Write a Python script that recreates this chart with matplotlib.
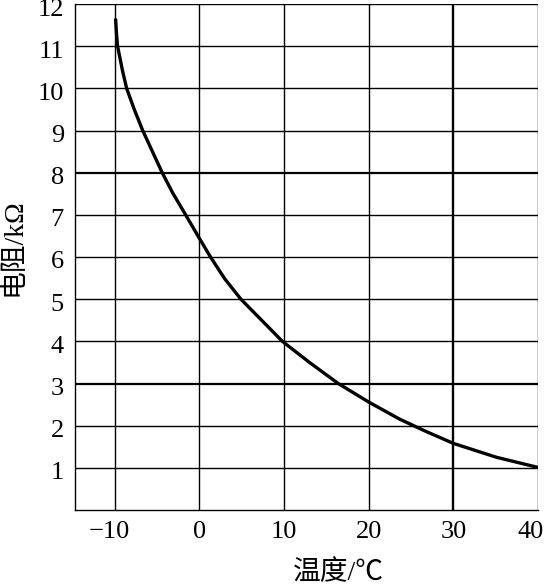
import matplotlib
matplotlib.use('Agg')
import matplotlib.pyplot as plt
from matplotlib.transforms import ScaledTranslation

# curve (temperature in C, resistance in kOhm)
temp = [-9.9, -9.8, -9.67, -9.1, -8.6, -7.7, -6.7, -4.4, -3.16, -1.63, 0, 1.31, 3.0,
        4.9, 7.3, 9.8, 13.0, 16.4, 20, 23.7, 26.8, 30, 35.1, 40]
resist = [11.63, 11.3, 11.0, 10.43, 10.0, 9.5, 9.0, 8.0, 7.52, 7.0, 6.44, 6.0, 5.48,
          5.0, 4.51, 4.0, 3.5, 3.0, 2.56, 2.15, 1.86, 1.58, 1.25, 1.01]

x_ticks = [-10, 0, 10, 20, 30, 40]
y_ticks = list(range(1, 13))

plt.rcParams['font.family'] = ['Liberation Serif', 'Noto Sans CJK SC', 'DejaVu Sans']

fig = plt.figure(figsize=(5.45, 5.88), dpi=100)
ax = fig.add_axes([75 / 545, 1 - 510 / 588, (538 - 75) / 545, (510 - 4) / 588])

ax.set_xlim(-14.7, 40)
ax.set_ylim(0, 12)

# grid lines (some drawn heavier, like the scan)
for xv in x_ticks:
    lw = 1.7 if xv == 30 else 1.0
    ax.axvline(xv, color='black', lw=lw, zorder=1)
for yv in y_ticks:
    lw = 1.6 if yv in (3, 8) else 1.0
    ax.axhline(yv, color='black', lw=lw, zorder=1)

ax.plot(temp, resist, color='black', lw=2.4, solid_capstyle='round',
        solid_joinstyle='round', zorder=3)

for s in ax.spines.values():
    s.set_linewidth(1.0)
    s.set_color('black')
ax.spines['top'].set_visible(False)
ax.spines['right'].set_visible(False)

ax.set_xticks(x_ticks)
ax.set_yticks(y_ticks)
ax.tick_params(length=0, labelsize=19)
ax.tick_params(axis='x', pad=8)
ax.tick_params(axis='y', pad=8)

# nudge labels a little, as in the original
down = ScaledTranslation(0, -3 / 100, fig.dpi_scale_trans)
for lab in ax.get_yticklabels():
    lab.set_transform(lab.get_transform() + down)
xlabs = ax.get_xticklabels()
xlabs[0].set_transform(xlabs[0].get_transform() + ScaledTranslation(-6 / 100, 0, fig.dpi_scale_trans))
xlabs[-1].set_transform(xlabs[-1].get_transform() + ScaledTranslation(-7 / 100, 0, fig.dpi_scale_trans))

fig.text(338 / 545, 1 - 573 / 588, '温度/℃', ha='center', va='center', fontsize=20)
fig.text(14 / 545, 1 - 247 / 588, '电阻/kΩ', ha='center', va='center',
         rotation=90, fontsize=20)

fig.savefig('out.png', dpi=100)
